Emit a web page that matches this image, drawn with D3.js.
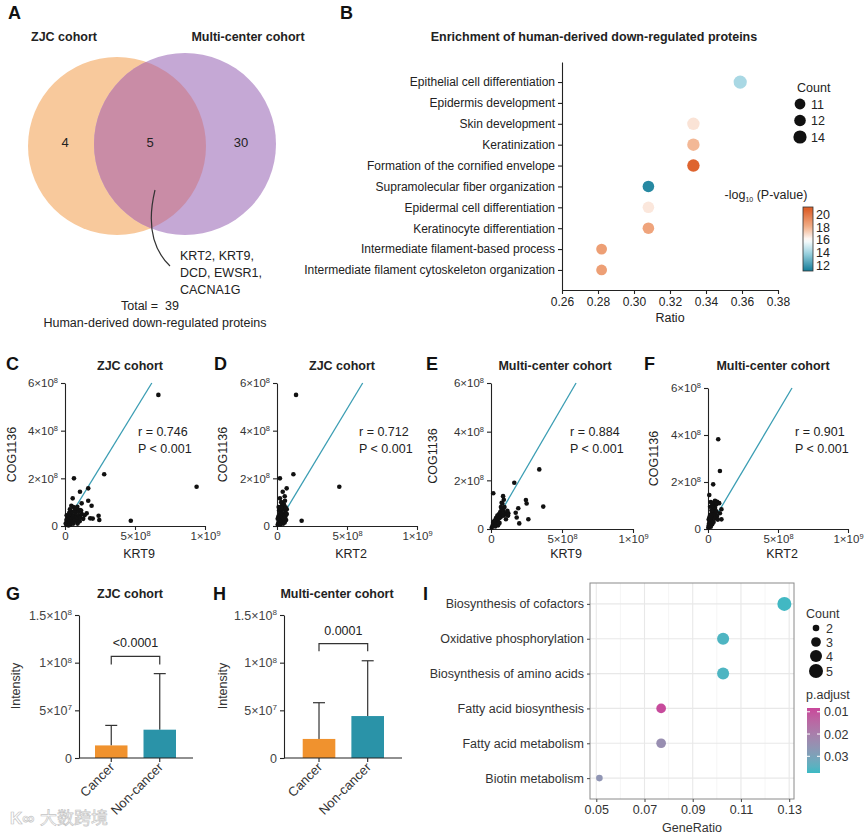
<!DOCTYPE html>
<html lang="en">
<head>
<meta charset="UTF-8">
<title>Figure</title>
<script src="https://d3js.org/d3.v7.min.js"></script>
<style>
    body { margin: 0; background: #fff; }
    svg { font-family: "Liberation Sans", Arial, sans-serif; }
    .axis path, .axis line { stroke: #222; stroke-width: 1.1px; }
    .axis text { fill: #333; }
    .letter { font-size: 18px; font-weight: bold; fill: #111; }
    .ptitle { font-size: 12.5px; font-weight: bold; fill: #222; text-anchor: middle; }
</style>
</head>
<body>
<svg id="fig" width="865" height="835"></svg>
<script>
// ---------- data ----------
const vennCounts = [4, 5, 30];
const vennShared = ["KRT2, KRT9,", "DCD, EWSR1,", "CACNA1G"];
const vennTotal = 39;

const goTerms = ["Epithelial cell differentiation", "Epidermis development", "Skin development",
    "Keratinization", "Formation of the cornified envelope", "Supramolecular fiber organization",
    "Epidermal cell differentiation", "Keratinocyte differentiation",
    "Intermediate filament-based process", "Intermediate filament cytoskeleton organization"];
const goRatio = [0.359, 0.333, 0.333, 0.333, 0.333, 0.308, 0.308, 0.308, 0.282, 0.282];
const goCount = [14, 13, 13, 13, 13, 12, 12, 12, 11, 11];
const goLogP = [14.2, 16.0, 16.7, 17.8, 20.6, 11.6, 16.6, 18.4, 18.6, 18.6];
const goCountLegend = [11, 12, 14];
const goColorTicks = [20, 18, 16, 14, 12];

// scatter values in units of 1e8
const ptsC = [[6.67,5.5],[9.4,1.65],[2.8,2.17],[4.7,0.22],[0.64,2.0],[1.07,1.44],[0.55,1.16],[1.66,1.58],
    [1.66,1.06],[1.9,0.85],[1.19,0.95],[2.4,0.43],[2.45,0.25],[1.8,0.32],[1.55,0.53],[0.88,0.81],
    [0.83,0.74],[1.07,0.67],[1.98,0.31],
    [0.1,0.05],[0.2,0.1],[0.15,0.2],[0.3,0.15],[0.25,0.3],[0.4,0.2],[0.35,0.4],[0.5,0.3],[0.45,0.5],
    [0.6,0.35],[0.55,0.15],[0.7,0.25],[0.65,0.45],[0.8,0.4],[0.75,0.55],[0.9,0.3],[0.85,0.2],[1.0,0.45],
    [1.1,0.35],[1.2,0.5],[0.3,0.55],[0.2,0.4],[0.1,0.25],[0.05,0.1],[0.4,0.05],[0.6,0.1],[0.9,0.1],
    [1.05,0.2],[1.3,0.3],[0.5,0.6],[0.7,0.65],[0.35,0.7],[0.6,0.8],[0.95,0.6],[1.15,0.65],[0.25,0.02],
    [0.12,0.45],[1.4,0.45],[0.8,0.75],[0.45,0.85]];
const ptsD = [[1.36,5.5],[4.45,1.65],[1.17,2.17],[0.21,2.0],[1.76,0.22],[0.41,1.44],[0.69,1.58],[0.21,1.16],
    [0.57,1.06],[0.55,1.25],[0.3,1.0],
    [0.05,0.05],[0.1,0.15],[0.2,0.1],[0.15,0.3],[0.25,0.25],[0.3,0.4],[0.35,0.2],[0.4,0.35],[0.45,0.5],
    [0.5,0.3],[0.55,0.45],[0.6,0.6],[0.3,0.6],[0.2,0.5],[0.1,0.4],[0.4,0.7],[0.5,0.75],[0.35,0.85],
    [0.6,0.4],[0.65,0.25],[0.7,0.5],[0.25,0.05],[0.45,0.1],[0.55,0.15],[0.15,0.65],[0.05,0.3],[0.4,0.95],
    [0.5,0.9],[0.7,0.7],[0.3,0.75],[0.62,0.78],[0.12,0.8]];
const ptsE = [[3.4,2.45],[1.64,1.9],[0.16,1.47],[3.68,0.92],[2.46,1.19],[2.51,1.05],[1.92,0.85],[1.74,0.67],
    [1.81,0.47],[1.99,0.23],[2.63,0.4],[1.22,0.65],[0.75,1.08],
    [0.05,0.05],[0.1,0.12],[0.2,0.15],[0.15,0.25],[0.3,0.2],[0.25,0.35],[0.4,0.3],[0.35,0.45],[0.5,0.4],
    [0.45,0.55],[0.6,0.45],[0.55,0.6],[0.7,0.5],[0.65,0.7],[0.8,0.6],[0.75,0.8],[0.9,0.55],[0.85,0.75],
    [1.0,0.65],[1.1,0.6],[1.2,0.55],[0.95,0.9],[0.8,1.05],[0.9,1.2],[0.85,1.35],[0.7,0.9],[0.6,0.25],
    [0.5,0.15],[1.05,0.4],[0.3,0.1],[0.2,0.3],[1.15,0.75]];
const ptsF = [[0.73,3.82],[0.85,2.47],[0.37,1.9],[0.09,1.45],[0.65,1.16],[0.33,1.02],[0.96,0.84],[0.85,0.67],
    [0.96,0.41],[0.2,1.15],[0.5,1.2],[0.8,1.1],
    [0.02,0.05],[0.05,0.15],[0.1,0.1],[0.08,0.25],[0.15,0.2],[0.12,0.35],[0.2,0.3],[0.18,0.45],[0.25,0.4],
    [0.22,0.55],[0.3,0.5],[0.28,0.65],[0.35,0.6],[0.33,0.75],[0.4,0.7],[0.38,0.85],[0.45,0.8],[0.5,0.9],
    [0.55,0.6],[0.6,0.75],[0.15,0.6],[0.1,0.5],[0.05,0.4],[0.3,0.2],[0.4,0.3],[0.5,0.45],[0.65,0.55],
    [0.7,0.4],[0.2,0.1],[0.25,0.8],[0.15,0.95],[0.45,1.05],[0.35,1.0],[0.6,1.05],[0.3,1.1]];
const fitLines = [[[0.45,0.5],[6.2,6.0]], [[0.57,0.6],[6.12,6.0]], [[0.16,0.16],[5.99,6.0]], [[0.49,0.47],[6.0,6.0]]];
const corrR = ["0.746", "0.712", "0.884", "0.901"];
const scatterXTicks = [0, 5, 10];
const scatterYTicks = [0, 2, 4, 6];

const barGroups = ["Cancer", "Non-cancer"];
const zjcMean = [1.32e7, 2.97e7];
const zjcUpper = [3.42e7, 8.85e7];
const mcMean = [2.0e7, 4.4e7];
const mcUpper = [5.8e7, 1.02e8];
const barYTicks = [0, 5e7, 1e8, 1.5e8];
const pLabels = ["<0.0001", "0.0001"];
const bracketLevels = [[0.98e8, 1.066e8], [1.12e8, 1.2e8]];

const keggTerms = ["Biosynthesis of cofactors", "Oxidative phosphorylation", "Biosynthesis of amino acids",
    "Fatty acid biosynthesis", "Fatty acid metabolism", "Biotin metabolism"];
const keggRatio = [0.128, 0.1026, 0.1026, 0.0769, 0.0769, 0.0513];
const keggCount = [5, 4, 4, 3, 3, 2];
const keggPadj = [0.037, 0.036, 0.036, 0.009, 0.024, 0.026];
const keggXTicks = [0.05, 0.07, 0.09, 0.11, 0.13];
const keggCountLegend = [2, 3, 4, 5];
const keggPTicks = [0.01, 0.02, 0.03];

// ---------- setup ----------
const svg = d3.select("#fig");
const defs = svg.append("defs");

function letter(t, x, y) {
    svg.append("text").attr("class", "letter").attr("x", x).attr("y", y).text(t);
}

// 6×10^8 style labels
function sciLabel(sel, mult) {
    sel.each(function(d) {
        const t = d3.select(this);
        const v = d * mult;
        t.text(null);
        if (v === 0) { t.text("0"); return; }
        const e = Math.floor(Math.log10(v) + 1e-9);
        const m = +(v / Math.pow(10, e)).toFixed(2);
        t.append("tspan").text(m + "×10");
        t.append("tspan").attr("dy", "-0.55em").style("font-size", "0.65em").text(e);
    });
}

// ---------- A: Venn ----------
letter("A", 8, 19);
svg.append("text").attr("class", "ptitle").attr("x", 64).attr("y", 41).text("ZJC cohort");
svg.append("text").attr("class", "ptitle").attr("x", 248).attr("y", 41).text("Multi-center cohort");

const cL = {x: 117, y: 146, r: 89}, cR = {x: 185, y: 144, r: 91};
defs.append("clipPath").attr("id", "clipL").append("circle")
    .attr("cx", cL.x).attr("cy", cL.y).attr("r", cL.r);
svg.append("circle").attr("cx", cL.x).attr("cy", cL.y).attr("r", cL.r).attr("fill", "#f8c99c");
svg.append("circle").attr("cx", cR.x).attr("cy", cR.y).attr("r", cR.r).attr("fill", "#c5a8d5");
svg.append("circle").attr("cx", cR.x).attr("cy", cR.y).attr("r", cR.r)
    .attr("fill", "#c98ca6").attr("clip-path", "url(#clipL)");

[[65, vennCounts[0]], [150, vennCounts[1]], [241, vennCounts[2]]].forEach(([x, v]) => {
    svg.append("text").attr("x", x).attr("y", 147).attr("text-anchor", "middle")
        .attr("font-size", 13).attr("fill", "#222").text(v);
});
svg.append("path").attr("d", "M155,190 C149,215 148,245 170,266")
    .attr("fill", "none").attr("stroke", "#333").attr("stroke-width", 1.2);
vennShared.forEach((s, i) => {
    svg.append("text").attr("x", 180).attr("y", 260 + i * 17).attr("font-size", 12.5)
        .attr("fill", "#222").text(s);
});
svg.append("text").attr("x", 150).attr("y", 310).attr("text-anchor", "middle").attr("font-size", 12.5)
    .attr("fill", "#222").attr("xml:space", "preserve").text("Total =  " + vennTotal);
svg.append("text").attr("x", 155).attr("y", 327).attr("text-anchor", "middle").attr("font-size", 12.5)
    .attr("fill", "#222").text("Human-derived down-regulated proteins");

// ---------- B: GO dot plot ----------
letter("B", 340, 19);
svg.append("text").attr("class", "ptitle").attr("x", 594).attr("y", 41)
    .text("Enrichment of human-derived down-regulated proteins");

const xB = d3.scaleLinear().domain([0.26, 0.38]).range([562, 778]);
const yB = d3.scalePoint().domain(goTerms).range([62, 290]).padding(0.96);
const colB = d3.scaleLinear().domain([11.2, 14, 16, 18, 21.2])
    .range(["#137c98", "#9fd4e1", "#ffffff", "#f2b08a", "#d9531a"]);
const rB = d3.scaleLinear().domain([11, 14]).range([5.4, 6.6]);

svg.append("g").attr("class", "axis").attr("transform", "translate(562,0)")
    .call(d3.axisLeft(yB).tickSize(4).tickSizeOuter(0))
    .selectAll("text").style("font-size", "12px").style("fill", "#222");
svg.append("g").attr("class", "axis").attr("transform", "translate(0,290)")
    .call(d3.axisBottom(xB).tickValues(d3.range(0.26, 0.3801, 0.02)).tickFormat(d3.format(".2f")).tickSize(4).tickSizeOuter(0))
    .selectAll("text").style("font-size", "12px").style("fill", "#222");
svg.append("text").attr("x", 670).attr("y", 322).attr("text-anchor", "middle").attr("font-size", 12.5)
    .attr("fill", "#222").text("Ratio");

svg.append("g").selectAll("circle").data(goTerms).join("circle")
    .attr("cx", (d, i) => xB(goRatio[i])).attr("cy", d => yB(d))
    .attr("r", (d, i) => rB(goCount[i])).attr("fill", (d, i) => colB(goLogP[i]));

svg.append("text").attr("x", 797).attr("y", 92).attr("font-size", 12.5).attr("fill", "#222").text("Count");
goCountLegend.forEach((c, i) => {
    svg.append("circle").attr("cx", 800).attr("cy", 104 + i * 16.5).attr("r", rB(c)).attr("fill", "#111");
    svg.append("text").attr("x", 811).attr("y", 108.5 + i * 16.5).attr("font-size", 12.5).attr("fill", "#222").text(c);
});

const tB = svg.append("text").attr("x", 766).attr("y", 199).attr("text-anchor", "middle")
    .attr("font-size", 12.5).attr("fill", "#222");
tB.append("tspan").text("-log");
tB.append("tspan").attr("font-size", 7).attr("dy", 3).text("10");
tB.append("tspan").attr("dy", -3).text(" (P-value)");

const lgB = defs.append("linearGradient").attr("id", "gradB").attr("x1", 0).attr("y1", 1).attr("x2", 0).attr("y2", 0);
const pB = d3.scaleLinear().domain([11.2, 21.1]).range([271, 207]);
d3.range(11.2, 21.15, 0.5).forEach(v => {
    lgB.append("stop").attr("offset", (v - 11.2) / 9.9).attr("stop-color", colB(v));
});
svg.append("rect").attr("x", 803).attr("y", 207).attr("width", 10).attr("height", 64)
    .attr("fill", "url(#gradB)").attr("stroke", "#333").attr("stroke-width", 0.8);
goColorTicks.forEach(v => {
    svg.append("text").attr("x", 816).attr("y", pB(v) + 4.5).attr("font-size", 12.5).attr("fill", "#222").text(v);
});

// ---------- C-F: scatter ----------
const scat = [
    {pts: ptsC, L: "C", lx: 6, title: "ZJC cohort", tx: 130, xl: "KRT9", xr: [65, 205], yr: [526, 383], sx: 138, ylx: 16},
    {pts: ptsD, L: "D", lx: 214, title: "ZJC cohort", tx: 342, xl: "KRT2", xr: [277, 417], yr: [526, 383], sx: 359, ylx: 227},
    {pts: ptsE, L: "E", lx: 426, title: "Multi-center cohort", tx: 555, xl: "KRT9", xr: [491, 633], yr: [529, 383], sx: 570, ylx: 437},
    {pts: ptsF, L: "F", lx: 644, title: "Multi-center cohort", tx: 773, xl: "KRT2", xr: [708, 848], yr: [529, 388], sx: 795, ylx: 658}
];
scat.forEach((p, k) => {
    letter(p.L, p.lx, 370);
    svg.append("text").attr("class", "ptitle").attr("x", p.tx).attr("y", 370).text(p.title);
    const x = d3.scaleLinear().domain([0, 10]).range(p.xr);
    const y = d3.scaleLinear().domain([0, 6]).range(p.yr);
    svg.append("g").attr("class", "axis").attr("transform", `translate(0,${p.yr[0]})`)
        .call(d3.axisBottom(x).tickValues(scatterXTicks).tickSize(4).tickSizeOuter(0))
        .selectAll("text").attr("y", 6).style("font-size", "11.5px").call(sciLabel, 1e8);
    svg.append("g").attr("class", "axis").attr("transform", `translate(${p.xr[0]},0)`)
        .call(d3.axisLeft(y).tickValues(scatterYTicks).tickSize(4).tickSizeOuter(0))
        .selectAll("text").style("font-size", "11.5px").call(sciLabel, 1e8);
    svg.append("text").attr("transform", `translate(${p.ylx},${(p.yr[0] + p.yr[1]) / 2}) rotate(-90)`)
        .attr("text-anchor", "middle").attr("font-size", 12.5).attr("fill", "#222").text("COG1136");
    svg.append("text").attr("x", (p.xr[0] + p.xr[1]) / 2 + 4).attr("y", 558).attr("text-anchor", "middle")
        .attr("font-size", 12.5).attr("fill", "#222").text(p.xl);
    svg.append("line")
        .attr("x1", x(fitLines[k][0][0])).attr("y1", y(fitLines[k][0][1]))
        .attr("x2", x(fitLines[k][1][0])).attr("y2", y(fitLines[k][1][1]))
        .attr("stroke", "#3a9db3").attr("stroke-width", 1.3);
    svg.append("g").selectAll("circle").data(p.pts).join("circle")
        .attr("cx", d => x(d[0])).attr("cy", d => y(d[1])).attr("r", 2.3).attr("fill", "#111");
    svg.append("text").attr("x", p.sx).attr("y", 436).attr("font-size", 12.5).attr("fill", "#222").text("r = " + corrR[k]);
    svg.append("text").attr("x", p.sx).attr("y", 453).attr("font-size", 12.5).attr("fill", "#222").text("P < 0.001");
});

// ---------- G, H: bars ----------
const bars = [
    {L: "G", lx: 6, title: "ZJC cohort", tx: 130, mean: zjcMean, up: zjcUpper, ax: [79, 193], br: [95, 176], yl: 20},
    {L: "H", lx: 213, title: "Multi-center cohort", tx: 337, mean: mcMean, up: mcUpper, ax: [284, 402], br: [302.7, 384], yl: 227}
];
const barColors = ["#f0922e", "#2a93a8"];
bars.forEach((p, k) => {
    letter(p.L, p.lx, 600);
    svg.append("text").attr("class", "ptitle").attr("x", p.tx).attr("y", 598).text(p.title);
    const x = d3.scaleBand().domain(barGroups).range(p.br).paddingInner(0.33);
    const y = d3.scaleLinear().domain([0, 1.5e8]).range([758, 615]);
    svg.append("g").attr("class", "axis").attr("transform", `translate(${p.ax[0]},0)`)
        .call(d3.axisLeft(y).tickValues(barYTicks).tickSize(4).tickSizeOuter(0))
        .selectAll("text").style("fill", "#444").style("font-size", "12.5px").call(sciLabel, 1);
    svg.append("text").attr("transform", `translate(${p.yl},${686}) rotate(-90)`)
        .attr("text-anchor", "middle").attr("font-size", 12.5).attr("fill", "#333").text("Intensity");
    // error bars (upper only)
    barGroups.forEach((g, i) => {
        const cx = x(g) + x.bandwidth() / 2;
        svg.append("line").attr("x1", cx).attr("x2", cx).attr("y1", y(p.mean[i])).attr("y2", y(p.up[i]))
            .attr("stroke", "#333").attr("stroke-width", 1.2);
        svg.append("line").attr("x1", cx - 6).attr("x2", cx + 6).attr("y1", y(p.up[i])).attr("y2", y(p.up[i]))
            .attr("stroke", "#333").attr("stroke-width", 1.2);
    });
    svg.append("g").selectAll("rect").data(barGroups).join("rect")
        .attr("x", d => x(d)).attr("width", x.bandwidth())
        .attr("y", (d, i) => y(p.mean[i])).attr("height", (d, i) => y(0) - y(p.mean[i]))
        .attr("fill", (d, i) => barColors[i]);
    // x axis
    svg.append("line").attr("x1", p.ax[0]).attr("x2", p.ax[1]).attr("y1", y(0)).attr("y2", y(0))
        .attr("stroke", "#222").attr("stroke-width", 1.1);
    barGroups.forEach(g => {
        const cx = x(g) + x.bandwidth() / 2;
        svg.append("line").attr("x1", cx).attr("x2", cx).attr("y1", y(0)).attr("y2", y(0) + 4)
            .attr("stroke", "#222").attr("stroke-width", 1.1);
        svg.append("text").attr("transform", `translate(${cx + 4},${y(0) + 10}) rotate(-45)`)
            .attr("text-anchor", "end").attr("font-size", 13).attr("fill", "#333").text(g);
    });
    // bracket
    const c0 = x(barGroups[0]) + x.bandwidth() / 2, c1 = x(barGroups[1]) + x.bandwidth() / 2;
    const [lo, hi] = bracketLevels[k];
    svg.append("path").attr("d", `M${c0},${y(lo)} V${y(hi)} H${c1} V${y(lo)}`)
        .attr("fill", "none").attr("stroke", "#333").attr("stroke-width", 1.2);
    svg.append("text").attr("x", (c0 + c1) / 2).attr("y", y(hi) - 9).attr("text-anchor", "middle")
        .attr("font-size", 12.5).attr("fill", "#222").text(pLabels[k]);
});

// watermark
svg.append("text").attr("x", 40).attr("y", 824).attr("font-family", "Noto Sans CJK SC")
    .attr("font-size", 17).attr("fill", "#fff").attr("stroke", "#bbb").attr("stroke-width", 0.7)
    .attr("opacity", 0.85).text("大数跨境");
svg.append("text").attr("x", 10).attr("y", 824).attr("font-size", 17).attr("font-weight", "bold")
    .attr("fill", "#fff").attr("stroke", "#bbb").attr("stroke-width", 0.7).attr("opacity", 0.85).text("K∞");

// ---------- I: KEGG dot plot ----------
letter("I", 423, 600);
const xI = d3.scaleLinear().domain([0.0474, 0.132]).range([590, 794]);
const yI = d3.scalePoint().domain(keggTerms).range([583, 799]).padding(0.6);
const colI = d3.scaleLinear().domain([0.0083, 0.0375]).range(["#c9479b", "#3bbac4"]).interpolate(d3.interpolateLab);
const rI = c => Math.sqrt(d3.scaleLinear().domain([2, 5]).range([11, 49])(c));

const gI = svg.append("g");
[0.06, 0.08, 0.10, 0.12].forEach(v => {
    gI.append("line").attr("x1", xI(v)).attr("x2", xI(v)).attr("y1", 583).attr("y2", 799)
        .attr("stroke", "#f3f3f3").attr("stroke-width", 0.8);
});
keggXTicks.forEach(v => {
    gI.append("line").attr("x1", xI(v)).attr("x2", xI(v)).attr("y1", 583).attr("y2", 799)
        .attr("stroke", "#e8e8e8").attr("stroke-width", 1.1);
});
keggTerms.forEach(t => {
    gI.append("line").attr("x1", 590).attr("x2", 794).attr("y1", yI(t)).attr("y2", yI(t))
        .attr("stroke", "#e8e8e8").attr("stroke-width", 1.1);
});
gI.append("rect").attr("x", 590).attr("y", 583).attr("width", 204).attr("height", 216)
    .attr("fill", "none").attr("stroke", "#8a8a8a").attr("stroke-width", 1);
svg.append("g").attr("class", "axis axI").attr("transform", "translate(590,0)")
    .call(d3.axisLeft(yI).tickSize(3).tickSizeOuter(0))
    .call(g => g.select(".domain").remove())
    .selectAll("text").style("font-size", "12.5px").style("fill", "#333");
svg.append("g").attr("class", "axis axI").attr("transform", "translate(0,799)")
    .call(d3.axisBottom(xI).tickValues(keggXTicks).tickFormat(d3.format(".2f")).tickSize(3).tickSizeOuter(0))
    .call(g => g.select(".domain").remove())
    .selectAll("text").style("font-size", "12.5px").style("fill", "#333");
svg.selectAll(".axI .tick line").style("stroke", "#555");
svg.append("text").attr("x", 692).attr("y", 832).attr("text-anchor", "middle").attr("font-size", 12.5)
    .attr("fill", "#333").text("GeneRatio");

svg.append("g").selectAll("circle").data(keggTerms).join("circle")
    .attr("cx", (d, i) => xI(keggRatio[i])).attr("cy", d => yI(d))
    .attr("r", (d, i) => rI(keggCount[i])).attr("fill", (d, i) => colI(keggPadj[i]));

svg.append("text").attr("x", 806).attr("y", 618).attr("font-size", 12.5).attr("fill", "#333").text("Count");
const cntY = [628, 642, 656, 671];
keggCountLegend.forEach((c, i) => {
    svg.append("circle").attr("cx", 816).attr("cy", cntY[i]).attr("r", rI(c)).attr("fill", "#111");
    svg.append("text").attr("x", 826).attr("y", cntY[i] + 4.5).attr("font-size", 12.5).attr("fill", "#333").text(c);
});
svg.append("text").attr("x", 806).attr("y", 699).attr("font-size", 12.5).attr("fill", "#333").text("p.adjust");
const lgI = defs.append("linearGradient").attr("id", "gradI").attr("x1", 0).attr("y1", 0).attr("x2", 0).attr("y2", 1);
d3.range(0, 1.01, 0.1).forEach(t => {
    lgI.append("stop").attr("offset", t).attr("stop-color", colI(0.0083 + t * 0.0292));
});
const pI = d3.scaleLinear().domain([0.0083, 0.0375]).range([708, 773]);
svg.append("rect").attr("x", 807).attr("y", 708).attr("width", 13).attr("height", 65).attr("fill", "url(#gradI)");
keggPTicks.forEach(v => {
    svg.append("line").attr("x1", 807).attr("x2", 810).attr("y1", pI(v)).attr("y2", pI(v)).attr("stroke", "#fff");
    svg.append("line").attr("x1", 817).attr("x2", 820).attr("y1", pI(v)).attr("y2", pI(v)).attr("stroke", "#fff");
    svg.append("text").attr("x", 824).attr("y", pI(v) + 4.5).attr("font-size", 12.5).attr("fill", "#333").text(v.toFixed(2));
});
</script>
</body>
</html>
